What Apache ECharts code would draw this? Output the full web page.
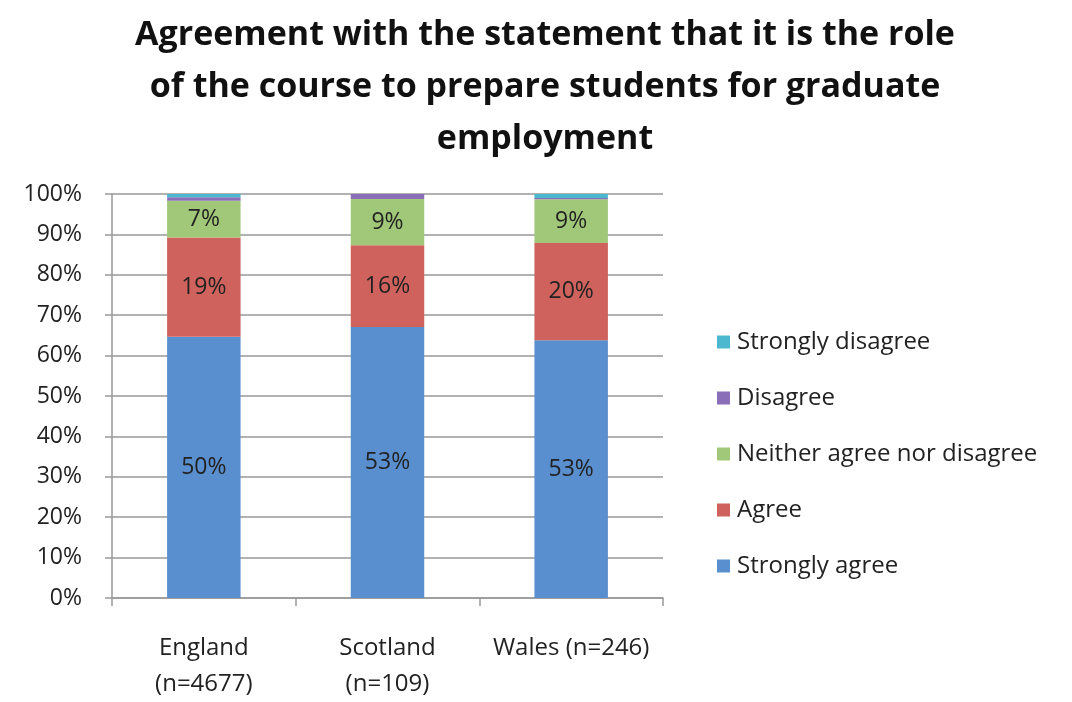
<!DOCTYPE html>
<html>
<head>
<meta charset="utf-8">
<script src="https://cdn.jsdelivr.net/npm/echarts@6/dist/echarts.min.js"></script>
<style>html,body{margin:0;padding:0;background:#fff}#c{width:1072px;height:702px}</style>
</head>
<body>
<div id="c"></div>
<script>
const categories = ['England\n(n=4677)', 'Scotland\n(n=109)', 'Wales (n=246)'];
const seriesNames = ['Strongly agree', 'Agree', 'Neither agree nor disagree', 'Disagree', 'Strongly disagree'];
// raw percentages per response (read from labels; small ones estimated from bar slivers)
const stronglyAgree = [50, 53, 53];
const agree = [19, 16, 20];
const neither = [7, 9, 9];
const disagree = [0.7, 1, 0.3];
const stronglyDisagree = [0.6, 0, 0.8];
const yTicks = [0, 10, 20, 30, 40, 50, 60, 70, 80, 90, 100];
const colors = ['#5a8fcf', '#cf625d', '#a0c878', '#8a6fb8', '#4bb8cf'];

const raw = [stronglyAgree, agree, neither, disagree, stronglyDisagree];
const totals = categories.map((_, i) => raw.reduce((s, arr) => s + arr[i], 0));
const fontFam = '"Open Sans", "Noto Sans", sans-serif';

const series = raw.map((arr, k) => ({
  name: seriesNames[k],
  type: 'bar',
  stack: 'total',
  barWidth: '40%',
  itemStyle: { color: colors[k] },
  data: arr.map((v, i) => ({ value: v / totals[i] * 100, raw: v })),
  label: {
    show: k < 3,
    position: 'inside',
    color: '#222',
    fontSize: 23,
    fontFamily: fontFam,
    formatter: p => p.data.raw + '%'
  }
}));

const chart = echarts.init(document.getElementById('c'));
chart.setOption({
  animation: false,
  backgroundColor: '#fff',
  title: {
    text: 'Agreement with the statement that it is the role\nof the course to prepare students for graduate\nemployment',
    left: 540, textAlign: 'center', top: 4,
    textStyle: { fontFamily: fontFam, fontWeight: 'bold', fontSize: 34, lineHeight: 52, color: '#111' }
  },
  grid: { left: 112, right: 409, top: 194, bottom: 98 },
  legend: {
    orient: 'vertical', left: 712, top: 321,
    itemWidth: 13, itemHeight: 13, itemGap: 24,
    icon: 'rect',
    data: seriesNames.slice().reverse(),
    textStyle: { fontSize: 24, lineHeight: 32, fontFamily: fontFam, color: '#222', padding: [0, 0, 0, 2] }
  },
  xAxis: {
    type: 'category',
    data: categories,
    axisLine: { lineStyle: { color: '#999', width: 1.5 } },
    axisTick: { show: true, length: 8, lineStyle: { color: '#999', width: 1.5 } },
    axisLabel: { interval: 0, hideOverlap: false, fontSize: 24, fontFamily: fontFam, color: '#222', margin: 32, lineHeight: 36 }
  },
  yAxis: {
    type: 'value', min: yTicks[0], max: yTicks[yTicks.length - 1], interval: 10,
    axisLine: { show: true, lineStyle: { color: '#999', width: 1.5 } },
    axisTick: { show: true, length: 7, lineStyle: { color: '#999', width: 1.5 } },
    splitLine: { lineStyle: { color: '#999', width: 1.5 } },
    axisLabel: { formatter: '{value}%', fontSize: 23, fontFamily: fontFam, color: '#222', margin: 30 }
  },
  series: series
});
</script>
</body>
</html>
